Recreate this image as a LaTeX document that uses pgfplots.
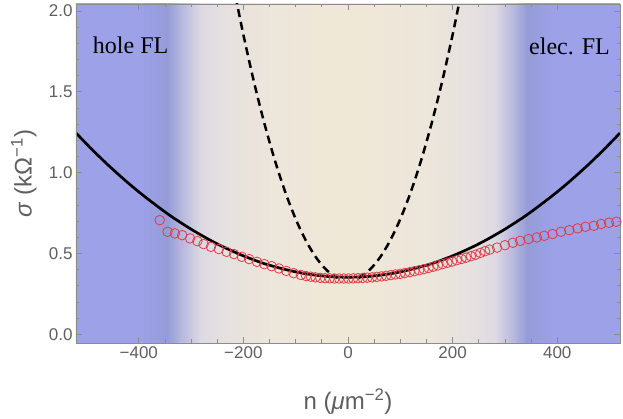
\documentclass[border=0pt]{standalone}
\usepackage{fontspec}
\setmainfont{Liberation Serif}
\newfontfamily\sansf{Liberation Sans}
\usepackage{pgfplots}
\pgfplotsset{compat=1.18}
\definecolor{blueA}{RGB}{156,161,232}
\definecolor{blueB}{RGB}{150,156,215}
\definecolor{cC}{RGB}{180,182,222}
\definecolor{cD}{RGB}{220,217,226}
\definecolor{cE}{RGB}{230,225,224}
\definecolor{cF}{RGB}{237,230,219}
\definecolor{beige}{RGB}{240,232,214}
\definecolor{redc}{RGB}{222,60,72}
\definecolor{axgray}{RGB}{140,140,140}
\definecolor{txtgray}{RGB}{95,95,95}
\pgfplotstableread{
n s
-360 0.706
-345 0.634
-331 0.624
-317 0.613
-302 0.593
-288 0.576
-276 0.558
-262 0.541
-247 0.527
-232 0.510
-218 0.496
-203 0.479
-189 0.465
-174 0.448
-160 0.434
-146 0.421
-132 0.407
-118 0.392
-104 0.378
-90 0.367
-80 0.360
-71 0.356
-62 0.352
-53 0.349
-44 0.347
-35 0.346
-26 0.345
-17 0.345
-8 0.345
1 0.345
10 0.346
19 0.347
28 0.348
37 0.350
46 0.352
55 0.355
64 0.358
73 0.362
82 0.366
91 0.370
100 0.374
109 0.379
118 0.384
127 0.390
136 0.396
145 0.403
154 0.410
163 0.418
172 0.426
181 0.434
190 0.442
199 0.450
208 0.458
217 0.466
226 0.474
235 0.483
244 0.492
253 0.503
262 0.514
271 0.524
285 0.536
300 0.551
315 0.566
329 0.578
345 0.589
361 0.599
375 0.609
391 0.620
407 0.634
423 0.644
439 0.655
454 0.665
470 0.671
484 0.682
499 0.690
513 0.696
}\reddata
\pgfplotstableread{
n s
-520 1.245
-500 1.178
-480 1.113
-460 1.051
-440 0.992
-420 0.935
-400 0.881
-380 0.830
-360 0.781
-340 0.734
-320 0.691
-300 0.650
-280 0.612
-260 0.576
-240 0.543
-220 0.513
-200 0.485
-180 0.460
-160 0.437
-140 0.418
-120 0.401
-100 0.386
-80 0.374
-60 0.365
-40 0.358
-20 0.354
0 0.353
20 0.354
40 0.358
60 0.365
80 0.374
100 0.386
120 0.401
140 0.418
160 0.437
180 0.460
200 0.485
220 0.513
240 0.543
260 0.576
280 0.612
300 0.650
320 0.691
340 0.734
360 0.781
380 0.830
400 0.881
420 0.935
440 0.992
460 1.051
480 1.113
500 1.178
520 1.245
}\solid
\pgfplotstableread{
n s
-215 2.090
-200 1.853
-180 1.564
-160 1.306
-140 1.078
-120 0.880
-100 0.713
-80 0.576
-60 0.470
-40 0.394
-20 0.348
}\dashL
\pgfplotstableread{
n s
20 0.348
40 0.394
60 0.470
80 0.576
100 0.713
120 0.880
140 1.078
160 1.306
180 1.564
200 1.853
215 2.090
}\dashR
\begin{document}
\begin{tikzpicture}
\begin{axis}[
  scale only axis, width=544pt, height=339pt,
  xmin=-520, xmax=520, ymin=-0.054, ymax=2.043,
  axis on top,
  axis line style={draw=axgray, line width=0.8pt},
  every tick/.style={draw=axgray, line width=0.8pt},
  major tick length=6pt, minor tick length=3.5pt,
  xtick={-400,-200,0,200,400}, xticklabels={−400,−200,0,200,400},
  ytick={0,0.5,1,1.5,2}, yticklabels={0.0,0.5,1.0,1.5,2.0},
  minor x tick num=3, minor y tick num=4,
  tick label style={font=\sansf\fontsize{17}{17}\selectfont, text=txtgray},
  xlabel={n (\textit{μ}m\textsuperscript{−2})},
  ylabel={\textit{σ} (kΩ\textsuperscript{−1})},
  label style={font=\sansf\fontsize{24}{24}\selectfont, text=txtgray},
  xlabel style={at={(axis description cs:0.5,-0.173)}, anchor=center},
  ylabel style={at={(axis description cs:-0.096,0.5)}, anchor=center},
  clip=true,
]
\fill[blueA] (axis cs:-530,-0.1) rectangle (axis cs:-395,2.1);
\shade[left color=blueA, right color=blueB] (axis cs:-395,-0.1) rectangle (axis cs:-345,2.1);
\shade[left color=blueB, right color=cC] (axis cs:-345,-0.1) rectangle (axis cs:-320,2.1);
\shade[left color=cC, right color=cD] (axis cs:-320,-0.1) rectangle (axis cs:-282,2.1);
\shade[left color=cD, right color=cE] (axis cs:-282,-0.1) rectangle (axis cs:-240,2.1);
\shade[left color=cE, right color=cF] (axis cs:-240,-0.1) rectangle (axis cs:-140,2.1);
\shade[left color=cF, right color=beige] (axis cs:-140,-0.1) rectangle (axis cs:0,2.1);
\shade[left color=beige, right color=cF] (axis cs:0,-0.1) rectangle (axis cs:140,2.1);
\shade[left color=cF, right color=cE] (axis cs:140,-0.1) rectangle (axis cs:240,2.1);
\shade[left color=cE, right color=cD] (axis cs:240,-0.1) rectangle (axis cs:282,2.1);
\shade[left color=cD, right color=cC] (axis cs:282,-0.1) rectangle (axis cs:318,2.1);
\shade[left color=cC, right color=blueB] (axis cs:318,-0.1) rectangle (axis cs:342,2.1);
\shade[left color=blueB, right color=blueA] (axis cs:342,-0.1) rectangle (axis cs:392,2.1);
\fill[blueA] (axis cs:392,-0.1) rectangle (axis cs:530,2.1);
\addplot[only marks, mark=o, mark size=4.8pt, mark options={draw=redc, line width=0.8pt}] table[x=n,y=s] {\reddata};
\addplot[black, line width=2.7pt, smooth] table[x=n,y=s] {\solid};
\addplot[black, line width=2.5pt, dash pattern=on 8pt off 5pt, smooth] table[x=n,y=s] {\dashL};
\addplot[black, line width=2.5pt, dash pattern=on 8pt off 5pt, smooth] table[x=n,y=s] {\dashR};
\node[anchor=west, font=\fontsize{24}{24}\selectfont, inner sep=0pt] at (axis cs:-488,1.79) {hole FL};
\node[anchor=east, font=\fontsize{24}{24}\selectfont, inner sep=0pt] at (axis cs:501,1.78) {elec. FL};
\end{axis}
\pgfresetboundingbox
\path[use as bounding box] (-76pt,-76pt) rectangle (547pt,343pt);
\end{tikzpicture}
\end{document}
